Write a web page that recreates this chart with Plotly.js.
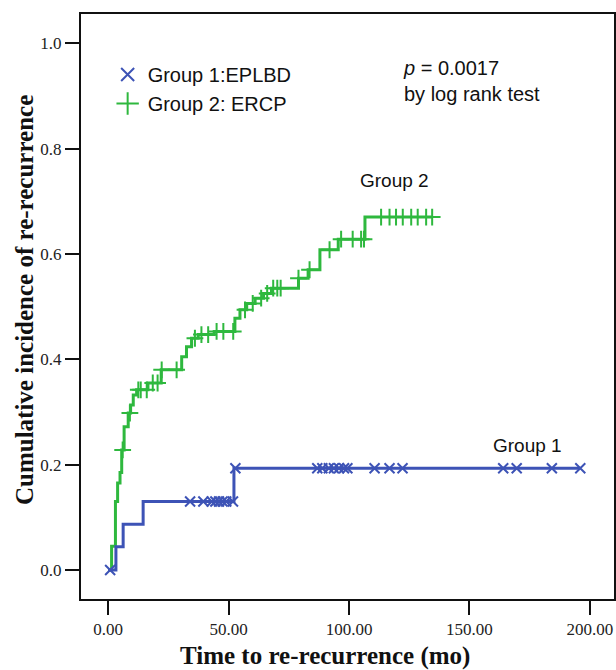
<!DOCTYPE html>
<html><head><meta charset="utf-8">
<script src="https://cdn.plot.ly/plotly-3.0.1.min.js"></script>
<style>html,body{margin:0;padding:0;background:#fff}#chart{width:616px;height:670px}</style>
</head><body><div id="chart"></div>
<script>
// Group 1: EPLBD (Kaplan-Meier cumulative incidence steps)
const g1StepTimes  = [0, 3.2, 6.2, 14.5, 52.2];
const g1StepValues = [0, 0.044, 0.087, 0.130, 0.193];
const g1EndTime = 196;
const g1CensorTimes = [0.8, 34, 39.5, 43, 44.5, 46, 47.5, 49, 51.8, 52.8,
  86.8, 88.9, 91.6, 93.7, 95.8, 97.9, 99.3, 110.6, 116.8, 122.2,
  164, 169.6, 184.2, 196];

// Group 2: ERCP
const g2StepTimes  = [0, 1.4, 3.0, 3.9, 4.9, 5.6, 6.6, 8.3, 9.3, 10.4, 11.8, 16.5, 22,
  30.5, 32.5, 34.6, 37.4, 44, 52.6, 54.7, 57.5, 61, 64.5, 67.8, 79, 83, 87.9, 95.5, 106.6];
const g2StepValues = [0, 0.045, 0.13, 0.165, 0.185, 0.228, 0.272, 0.298, 0.313, 0.332, 0.342, 0.355, 0.380,
  0.405, 0.424, 0.440, 0.447, 0.453, 0.478, 0.494, 0.506, 0.516, 0.525, 0.535, 0.554, 0.570, 0.608, 0.628, 0.670];
const g2EndTime = 134.5;
const g2CensorTimes = [6.0, 9.0, 12.5, 13.5, 16, 18.5, 20.5, 22.2, 28.4, 36, 38.7, 41.5, 45, 47.8,
  51.9, 56.8, 60, 63.5, 66, 68.5, 70.2, 71.6, 79, 83.6, 91.9, 96.7, 101.5, 105, 106.2,
  113.3, 116.8, 119.5, 122.3, 125.8, 128.5, 132, 134.5];

const xTickVals = [0, 50, 100, 150, 200];
const xTickText = ['0.00', '50.00', '100.00', '150.00', '200.00'];
const yTickVals = [0, 0.2, 0.4, 0.6, 0.8, 1.0];
const yTickText = ['0.0', '0.2', '0.4', '0.6', '0.8', '1.0'];

const blue = '#3d53b6';
const green = '#2eb83e';

function stepValue(times, values, t) {
  let v = values[0];
  for (let i = 0; i < times.length; i++) if (times[i] <= t) v = values[i];
  return v;
}

const traces = [
  { x: g2StepTimes.concat([g2EndTime]), y: g2StepValues.concat([g2StepValues[g2StepValues.length-1]]),
    mode: 'lines', line: {shape: 'hv', color: green, width: 3}, showlegend: false, hoverinfo: 'skip' },
  { x: g2CensorTimes, y: g2CensorTimes.map(t => stepValue(g2StepTimes, g2StepValues, t)),
    mode: 'markers', marker: {symbol: 'cross-thin-open', size: 12, color: green, line: {color: green, width: 2}},
    showlegend: false },
  { x: g1StepTimes.concat([g1EndTime]), y: g1StepValues.concat([g1StepValues[g1StepValues.length-1]]),
    mode: 'lines', line: {shape: 'hv', color: blue, width: 3}, showlegend: false, hoverinfo: 'skip' },
  { x: g1CensorTimes, y: g1CensorTimes.map(t => stepValue(g1StepTimes, g1StepValues, t)),
    mode: 'markers', marker: {symbol: 'x-thin-open', size: 10, color: blue, line: {color: blue, width: 2}},
    showlegend: false },
  { x: [null], y: [null], mode: 'markers', name: 'Group 1:EPLBD',
    marker: {symbol: 'x-thin-open', size: 13, color: blue, line: {color: blue, width: 2}} },
  { x: [null], y: [null], mode: 'markers', name: 'Group 2: ERCP',
    marker: {symbol: 'cross-thin-open', size: 16, color: green, line: {color: green, width: 2}} }
];

const serif = 'Liberation Serif, Times New Roman, serif';
const sans = 'Liberation Sans, Arial, sans-serif';

const layout = {
  width: 616, height: 670,
  margin: {l: 81, r: 2, t: 14, b: 71},
  paper_bgcolor: '#fff', plot_bgcolor: '#fff',
  xaxis: {
    range: [-11.3, 210], tickvals: xTickVals, ticktext: xTickText,
    ticks: 'outside', ticklen: 14, tickwidth: 2, tickcolor: '#111',
    showline: true, linewidth: 2, linecolor: '#111', mirror: true,
    showgrid: false, zeroline: false,
    tickfont: {family: serif, size: 17, color: '#222'}
  },
  yaxis: {
    range: [-0.0551, 1.0556], tickvals: yTickVals, ticktext: yTickText,
    ticks: 'outside', ticklen: 14, tickwidth: 2, tickcolor: '#111',
    showline: true, linewidth: 2, linecolor: '#111', mirror: true,
    showgrid: false, zeroline: false,
    tickfont: {family: serif, size: 17, color: '#222'}
  },
  legend: {x: 0.05, y: 0.93, xanchor: 'left', yanchor: 'top', bgcolor: 'rgba(0,0,0,0)',
    font: {family: sans, size: 20, color: '#111'}, tracegroupgap: 0},
  annotations: [
    {xref: 'paper', yref: 'paper', x: 0.458, y: -0.0974, xanchor: 'center', yanchor: 'middle',
     text: '<b>Time to re-recurrence (mo)</b>', showarrow: false,
     font: {family: serif, size: 25, color: '#111'}},
    {xref: 'paper', yref: 'paper', x: -0.107, y: 0.511, xanchor: 'center', yanchor: 'middle', textangle: -90,
     text: '<b>Cumulative incidence of re-recurrence</b>', showarrow: false,
     font: {family: serif, size: 25, color: '#111'}},
    {xref: 'paper', yref: 'paper', x: 0.601, y: 0.93, xanchor: 'left', yanchor: 'top', align: 'left',
     text: '<i>p</i> = 0.0017<br>by log rank test', showarrow: false,
     font: {family: sans, size: 20, color: '#111'}},
    {xref: 'x', yref: 'y', x: 119, y: 0.74, text: 'Group 2', showarrow: false,
     font: {family: sans, size: 19, color: '#111'}},
    {xref: 'x', yref: 'y', x: 174, y: 0.236, text: 'Group 1', showarrow: false,
     font: {family: sans, size: 19, color: '#111'}}
  ]
};

Plotly.newPlot('chart', traces, layout, {displayModeBar: false, staticPlot: true});
</script>
</body></html>
